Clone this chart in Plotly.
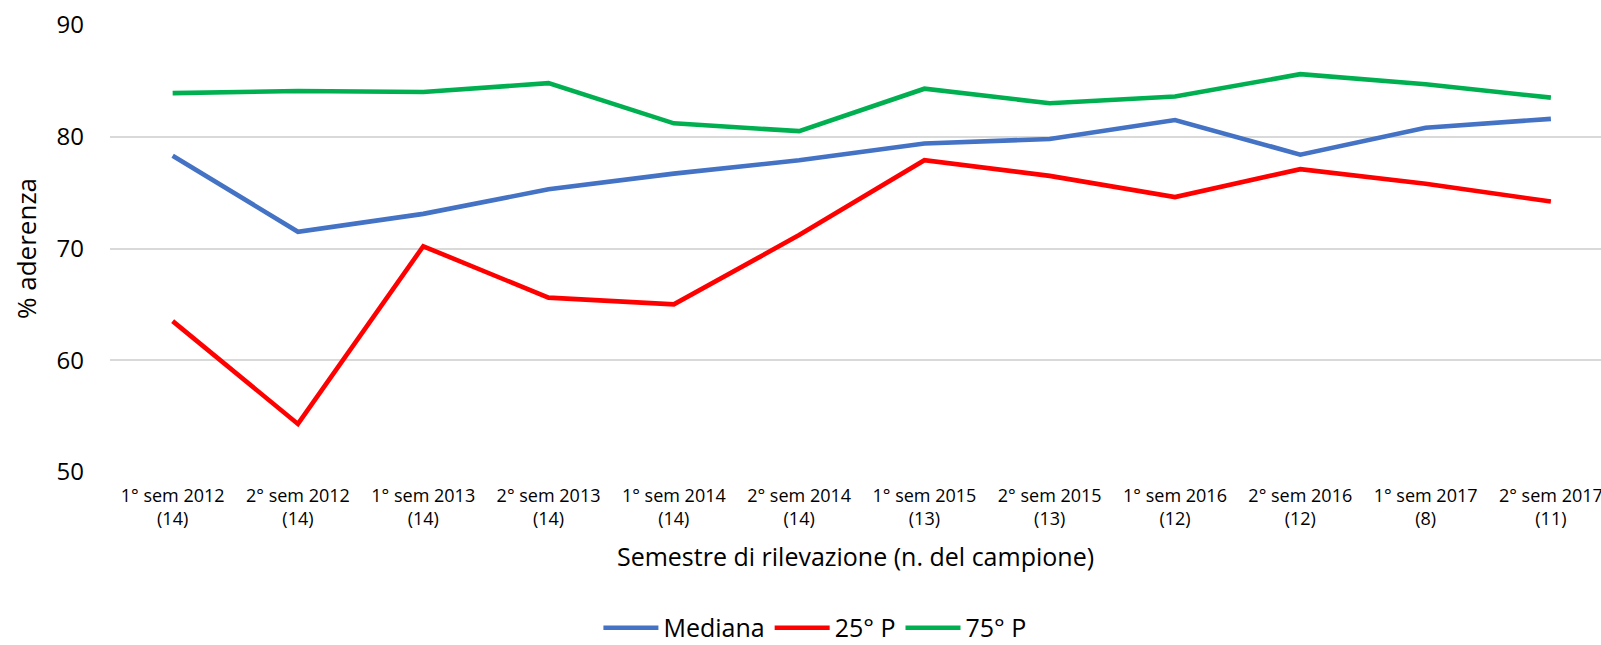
import plotly.graph_objects as go

categories = ["1° sem 2012<br>(14)", "2° sem 2012<br>(14)", "1° sem 2013<br>(14)", "2° sem 2013<br>(14)",
              "1° sem 2014<br>(14)", "2° sem 2014<br>(14)", "1° sem 2015<br>(13)", "2° sem 2015<br>(13)",
              "1° sem 2016<br>(12)", "2° sem 2016<br>(12)", "1° sem 2017<br>(8)", "2° sem 2017<br>(11)"]

mediana = [78.3, 71.5, 73.1, 75.3, 76.7, 77.9, 79.4, 79.8, 81.5, 78.4, 80.8, 81.6]
p25 = [63.5, 54.3, 70.2, 65.6, 65.0, 71.2, 77.9, 76.5, 74.6, 77.1, 75.8, 74.2]
p75 = [83.9, 84.1, 84.0, 84.8, 81.2, 80.5, 84.3, 83.0, 83.6, 85.6, 84.7, 83.5]

series = [("Mediana", mediana, "#4472C4"), ("25° P", p25, "#FF0000"), ("75° P", p75, "#00B050")]

FONT = "Open Sans"

fig = go.Figure()
for name, vals, color in series:
    fig.add_trace(go.Scatter(x=list(range(len(categories))), y=vals, name=name, mode="lines",
                             line=dict(color=color, width=4.6)))

fig.update_layout(
    width=1601, height=645,
    margin=dict(l=110, r=0, t=25, b=173, autoexpand=False),
    paper_bgcolor="white", plot_bgcolor="white",
    font=dict(family=FONT, color="#000000"),
    showlegend=True,
    legend=dict(orientation="h", xref="container", yref="container",
                x=0.509, xanchor="center", y=0.0264, yanchor="middle",
                font=dict(size=25, family=FONT, color="#000000"),
                itemwidth=55,
                bgcolor="rgba(0,0,0,0)"),
    xaxis=dict(
        tickmode="array", tickvals=list(range(len(categories))), ticktext=categories,
        range=[-0.5, 11.4], showgrid=False, zeroline=False, showline=False,
        tickfont=dict(size=18, family=FONT, color="#000000"),
        ticklabelstandoff=11, ticklabeloverflow="allow", automargin=False,
        title=dict(text="Semestre di rilevazione (n. del campione)", font=dict(size=25, family=FONT, color="#000000"),
                   standoff=19),
    ),
    yaxis=dict(
        range=[50, 90], tickvals=[50, 60, 70, 80, 90], showgrid=True, gridcolor="#D9D9D9", gridwidth=1.5,
        zeroline=False, showline=False, automargin=False,
        tickfont=dict(size=24, family=FONT, color="#000000"),
        ticklabelstandoff=25,
        title=dict(text="% aderenza", font=dict(size=26, family=FONT, color="#000000"), standoff=12),
    ),
)

fig.write_html("out.html", config={"displayModeBar": False},
               post_script="document.body.style.margin='0';document.body.style.overflow='hidden';")
